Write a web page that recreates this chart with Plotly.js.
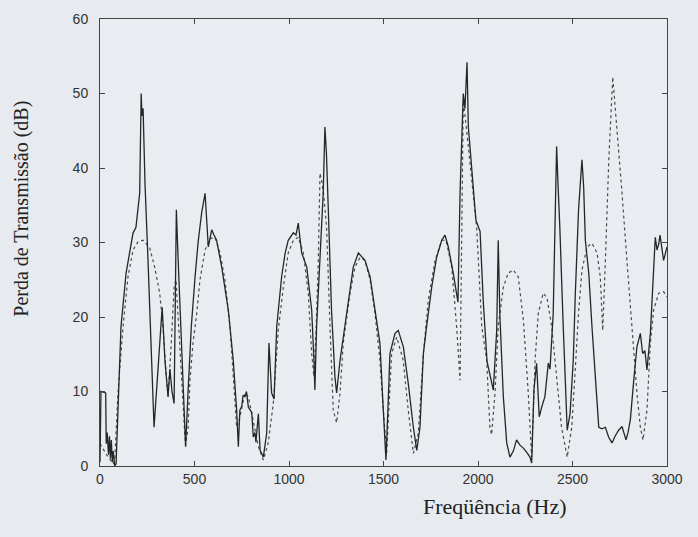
<!DOCTYPE html>
<html>
<head>
<meta charset="utf-8">
<script src="https://cdn.plot.ly/plotly-3.0.1.min.js"></script>
<style>
html,body{margin:0;padding:0;background:#e7ebef;}
#chart{width:698px;height:537px;}
</style>
</head>
<body>
<div id="chart"></div>
<script>
// Measured transmission loss (solid)
var measFreq = [0,5,30,33,38,45,50,55,60,65,70,78,85,111,138,175,190,210,218,222,228,238,254,270,286,307,329,344,360,370,381,392,404,413,429,442,453,466,483,503,519,538,556,573,591,603,617,644,661,679,705,723,732,740,750,757,767,775,785,803,811,820,825,838,847,864,882,894,908,921,935,961,979,996,1023,1037,1049,1067,1094,1106,1120,1132,1137,1146,1164,1181,1190,1198,1208,1225,1243,1252,1270,1287,1314,1340,1367,1381,1402,1429,1455,1481,1499,1513,1524,1534,1561,1578,1605,1631,1658,1676,1693,1711,1728,1755,1781,1808,1825,1843,1869,1887,1894,1905,1922,1931,1942,1949,1967,1989,2011,2028,2048,2073,2081,2099,2107,2116,2134,2152,2169,2187,2204,2222,2240,2259,2275,2284,2296,2310,2324,2337,2354,2372,2381,2398,2407,2416,2423,2433,2451,2466,2472,2487,2504,2515,2532,2550,2559,2568,2586,2603,2621,2639,2656,2674,2691,2709,2725,2744,2762,2783,2794,2806,2824,2841,2859,2871,2883,2894,2912,2929,2938,2947,2956,2963,2982,3000];
var measLoss = [0.5,10,9.8,3,4.5,1.5,4,1,3.5,0.5,2,0,0.3,18.7,25.9,31.3,32,36.6,50,47,48,38,27.6,16,5.2,13,21.3,14,9.3,13,10,8.4,34.4,28,18,9,2.6,10,18.7,25.4,30,34,36.6,29.4,31.7,31,30.3,26.7,24,20.9,14.2,7.5,2.6,7.5,8,9.5,9.3,10,7.9,7.2,3.9,4.5,3.2,7,2.1,1.2,4.4,16.5,9.8,9,18.7,25.4,28.5,30.3,31.3,31,32.6,28.6,26.7,24,20.9,14.2,10.2,18.7,27.6,36.6,45.5,42,34.4,20.9,12,9.8,14.2,17.3,22.3,26.7,28.6,28.2,27.6,25.4,20.9,16.5,7.5,0.8,8,15.1,17.8,18.2,16,11.1,5.2,2.1,5.2,15.1,18.7,24,28,30.3,31,29.4,25.9,23.2,22,36.6,50,48,54.2,45.5,39.7,33,31.5,22,14,11.1,10.2,18.2,30.3,20,9.3,3.1,1.2,2,3.5,2.8,2.4,1.8,1.2,0.4,10.2,13.8,6.6,7.9,9.3,13.8,13,20.5,31.7,42.9,38,32,18.7,9.8,4.8,7,14.2,23.2,34.4,41.1,37.5,30.3,25.9,18.7,11.5,5.2,5,5.2,3.9,3.1,4,4.8,5.3,3.5,4.5,6.2,11.5,16,17.8,15.1,15.5,12.9,17.8,27.6,30.7,29,29.8,31,27.6,29.4];

// Calculated transmission loss (dotted)
var calcFreq = [0,35,70,78,95,122,148,175,201,228,263,289,316,333,351,360,376,392,402,418,434,452,466,476,492,512,529,556,582,608,635,661,688,705,723,735,750,767,785,811,838,864,890,917,943,970,996,1023,1049,1076,1102,1120,1132,1143,1155,1164,1175,1185,1199,1217,1234,1252,1270,1287,1323,1349,1376,1402,1429,1455,1481,1499,1517,1529,1543,1570,1604,1631,1658,1684,1711,1737,1773,1808,1831,1861,1887,1905,1913,1922,1936,1967,1993,2020,2046,2063,2072,2090,2107,2134,2160,2187,2213,2240,2266,2284,2302,2319,2345,2365,2390,2416,2442,2472,2496,2517,2533,2550,2577,2603,2630,2647,2660,2674,2692,2713,2735,2762,2788,2815,2841,2859,2873,2894,2912,2929,2956,2982,3000];
var calcLoss = [3,1.5,0.3,0.8,9.8,18.7,25.4,29,30.1,30.3,29.3,26.7,23.2,18.7,12,9.3,16,24,25,18,10,2.8,5,11.5,16.5,20.5,25,29,30.5,30.7,28.6,25,18.7,12,5.2,6,8,9.8,9.3,5.8,2.6,0.8,3.1,8.4,18.2,24,28.6,30.3,30.7,28.6,23.2,15.1,12,18,27.6,39.3,38,36,32,18.7,7.5,5.8,9.8,16.5,23.2,26.7,28,27.6,25,20.5,14.2,7.5,1.7,8,15.1,17.3,14.2,7.5,1.7,4.4,15.1,22.3,27.6,30.3,30.3,26.7,18.7,11.5,27.6,49,46,38.8,32,18.7,14.2,5.2,4.2,9.8,18.7,24,25.9,26.3,25.4,19.6,9.8,1.2,14.2,20.5,23.2,22.6,18.7,12,5.2,1.2,5.2,14,21,26.3,29.4,29.9,28.6,25.4,18.2,27.6,41.1,52.2,45.5,36.6,27.6,18.7,9.8,5.2,3.5,7.5,16.5,20.9,23.2,23.4,22.7];

var xTicks = [0,500,1000,1500,2000,2500,3000];
var yTicks = [0,10,20,30,40,50,60];

var traces = [
  {x: calcFreq, y: calcLoss, type: 'scatter', mode: 'lines',
   line: {color: '#4a4a4a', width: 1.2, dash: 'dot'}, hoverinfo: 'skip'},
  {x: measFreq, y: measLoss, type: 'scatter', mode: 'lines',
   line: {color: '#262626', width: 1.3}, hoverinfo: 'skip'}
];

var tickFont = {family: 'Liberation Sans, Arial, sans-serif', size: 14, color: '#333'};
var layout = {
  width: 698, height: 537,
  paper_bgcolor: '#e7ebef', plot_bgcolor: '#e9edf1',
  margin: {l: 100, r: 31, t: 19, b: 71},
  showlegend: false,
  xaxis: {range: [0, 3000], tickvals: xTicks, ticktext: xTicks.map(String),
    ticks: 'inside', ticklen: 5, tickcolor: '#444', showgrid: false, zeroline: false,
    showline: true, linecolor: '#444', linewidth: 1, mirror: 'ticks', tickfont: tickFont},
  yaxis: {range: [0, 60], tickvals: yTicks, ticktext: yTicks.map(String),
    ticks: 'inside', ticklen: 5, tickcolor: '#444', showgrid: false, zeroline: false,
    showline: true, linecolor: '#444', linewidth: 1, mirror: 'ticks', tickfont: tickFont,
    ticklabelstandoff: 8},
  annotations: [
    {text: 'Freqüência (Hz)', xref: 'paper', yref: 'paper', x: 0.697, y: -0.09,
     xanchor: 'center', yanchor: 'middle', showarrow: false,
     font: {family: 'Liberation Serif, Times New Roman, serif', size: 22, color: '#222'}},
    {text: 'Perda de Transmissão (dB)', xref: 'paper', yref: 'paper', x: -0.138, y: 0.575,
     xanchor: 'center', yanchor: 'middle', showarrow: false, textangle: -90,
     font: {family: 'Liberation Serif, Times New Roman, serif', size: 20, color: '#222'}}
  ]
};

Plotly.newPlot('chart', traces, layout, {displayModeBar: false, staticPlot: true});
</script>
</body>
</html>
